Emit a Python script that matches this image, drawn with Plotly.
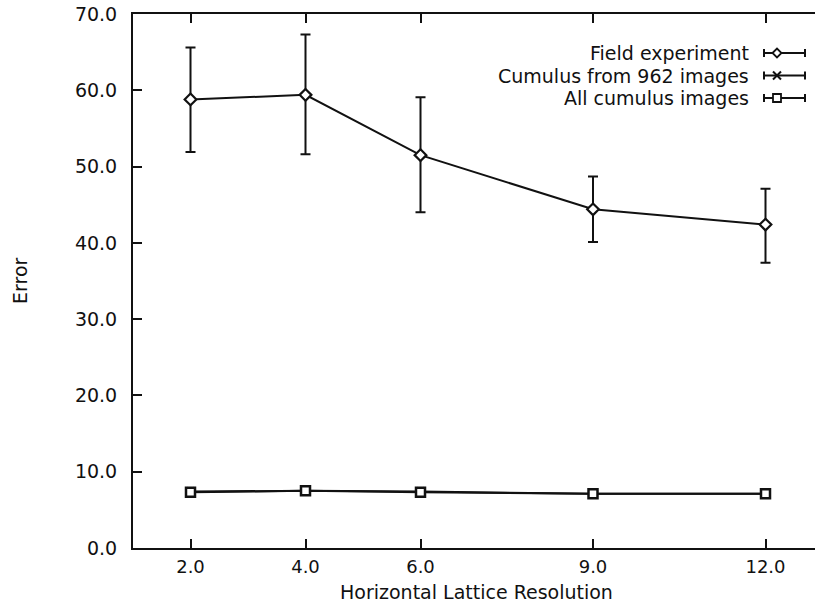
import plotly.graph_objects as go

# Horizontal lattice resolution (x) and error values per series
resolution = [2.0, 4.0, 6.0, 9.0, 12.0]

field_error = [58.8, 59.4, 51.5, 44.4, 42.4]
field_upper = [65.6, 67.3, 59.1, 48.7, 47.1]
field_lower = [51.9, 51.6, 44.0, 40.1, 37.4]

cumulus962_error = [7.4, 7.5, 7.4, 7.1, 7.1]
cumulus962_dev = [0.2, 0.2, 0.2, 0.2, 0.2]

all_cumulus_error = [7.3, 7.5, 7.3, 7.1, 7.1]
all_cumulus_dev = [0.2, 0.2, 0.2, 0.2, 0.2]

series_names = ["Field experiment", "Cumulus from 962 images", "All cumulus images"]

y_ticks = [0, 10, 20, 30, 40, 50, 60, 70]

W, H = 815, 609
L, R, T, B = 133, 0, 14, 61
PW, PH = W - L - R, H - T - B
FONT = "DejaVu Sans"
FS = 19
INK = "#111111"


def px(x):
    return (x - L) / PW


def py(y):
    return (H - B - y) / PH


fig = go.Figure()

fig.add_trace(go.Scatter(
    x=resolution, y=field_error, name=series_names[0], mode="lines+markers",
    line=dict(color=INK, width=2),
    marker=dict(symbol="diamond", size=9, color="white", line=dict(color=INK, width=2.2)),
    error_y=dict(type="data", symmetric=False,
                 array=[u - v for u, v in zip(field_upper, field_error)],
                 arrayminus=[v - l for v, l in zip(field_error, field_lower)],
                 color=INK, thickness=2, width=5),
    showlegend=False,
))

fig.add_trace(go.Scatter(
    x=resolution, y=cumulus962_error, name=series_names[1], mode="lines+markers",
    line=dict(color=INK, width=2),
    marker=dict(symbol="x-thin-open", size=8, color=INK, line=dict(color=INK, width=2)),
    error_y=dict(type="data", array=cumulus962_dev, color=INK, thickness=2, width=5),
    showlegend=False,
))

fig.add_trace(go.Scatter(
    x=resolution, y=all_cumulus_error, name=series_names[2], mode="lines+markers",
    line=dict(color=INK, width=2),
    marker=dict(symbol="square", size=9, color="white", line=dict(color=INK, width=2.5)),
    error_y=dict(type="data", array=all_cumulus_dev, color=INK, thickness=2, width=5),
    showlegend=False,
))

# Key: label text with an error-bar sample and the series marker
shapes = []
annotations = []
rows_y = [53, 75.5, 98]
cap_l, cap_r, mark_x = 764, 805, 777
for i, (name, ry) in enumerate(zip(series_names, rows_y)):
    annotations.append(dict(
        x=px(751), y=py(ry), xref="paper", yref="paper", text=name,
        showarrow=False, xanchor="right", yanchor="middle",
        font=dict(family=FONT, size=FS, color=INK),
    ))
    line_style = dict(color=INK, width=2)
    shapes.append(dict(type="line", xref="paper", yref="paper",
                       x0=px(cap_l), x1=px(cap_r), y0=py(ry), y1=py(ry), line=line_style))
    for cx in (cap_l, cap_r):
        shapes.append(dict(type="line", xref="paper", yref="paper",
                           x0=px(cx), x1=px(cx), y0=py(ry - 4), y1=py(ry + 4), line=line_style))
    if i == 0:
        d = 4.5
        path = "M {} {} L {} {} L {} {} L {} {} Z".format(
            px(mark_x - d), py(ry), px(mark_x), py(ry - d),
            px(mark_x + d), py(ry), px(mark_x), py(ry + d))
        shapes.append(dict(type="path", xref="paper", yref="paper", path=path,
                           fillcolor="white", line=dict(color=INK, width=1.8)))
    elif i == 1:
        d = 4
        for s in (1, -1):
            shapes.append(dict(type="line", xref="paper", yref="paper",
                               x0=px(mark_x - d), x1=px(mark_x + d),
                               y0=py(ry - s * d), y1=py(ry + s * d), line=line_style))
    else:
        d = 4
        shapes.append(dict(type="rect", xref="paper", yref="paper",
                           x0=px(mark_x - d), x1=px(mark_x + d), y0=py(ry - d), y1=py(ry + d),
                           fillcolor="white", line=dict(color=INK, width=1.8)))

# Axis titles
annotations.append(dict(
    x=px(476), y=py(592), xref="paper", yref="paper", text="Horizontal Lattice Resolution",
    showarrow=False, xanchor="center", yanchor="middle",
    font=dict(family=FONT, size=FS, color=INK),
))
annotations.append(dict(
    x=px(20), y=0.5, xref="paper", yref="paper", text="Error", textangle=-90,
    showarrow=False, xanchor="center", yanchor="middle",
    font=dict(family=FONT, size=FS, color=INK),
))

fig.update_layout(
    width=W, height=H,
    margin=dict(l=L, r=R, t=T, b=B),
    paper_bgcolor="white", plot_bgcolor="white",
    font=dict(family=FONT, size=FS, color=INK),
    shapes=shapes, annotations=annotations,
    xaxis=dict(
        range=[1.0, 1.0 + PW / 57.5],
        tickvals=resolution, ticktext=["{:.1f}".format(v) for v in resolution],
        ticks="inside", ticklen=9, tickwidth=2, tickcolor=INK,
        showline=True, linewidth=2, linecolor=INK, mirror="ticks",
        showgrid=False, zeroline=False, ticklabelstandoff=1,
        tickfont=dict(family=FONT, size=18, color=INK),
    ),
    yaxis=dict(
        range=[0, 70], tickvals=y_ticks, ticktext=["{:.1f}".format(v) for v in y_ticks],
        ticks="inside", ticklen=9, tickwidth=2, tickcolor=INK,
        showline=True, linewidth=2, linecolor=INK, mirror=False,
        showgrid=False, zeroline=False, ticklabelstandoff=10,
        tickfont=dict(family=FONT, size=FS, color=INK),
    ),
    yaxis2=dict(
        range=[0, 70], tickvals=y_ticks, overlaying="y", side="right", anchor="x",
        ticks="inside", ticklen=5, tickwidth=2, tickcolor=INK,
        showline=False, showticklabels=False, showgrid=False, zeroline=False,
    ),
)

fig.write_html("out.html")
